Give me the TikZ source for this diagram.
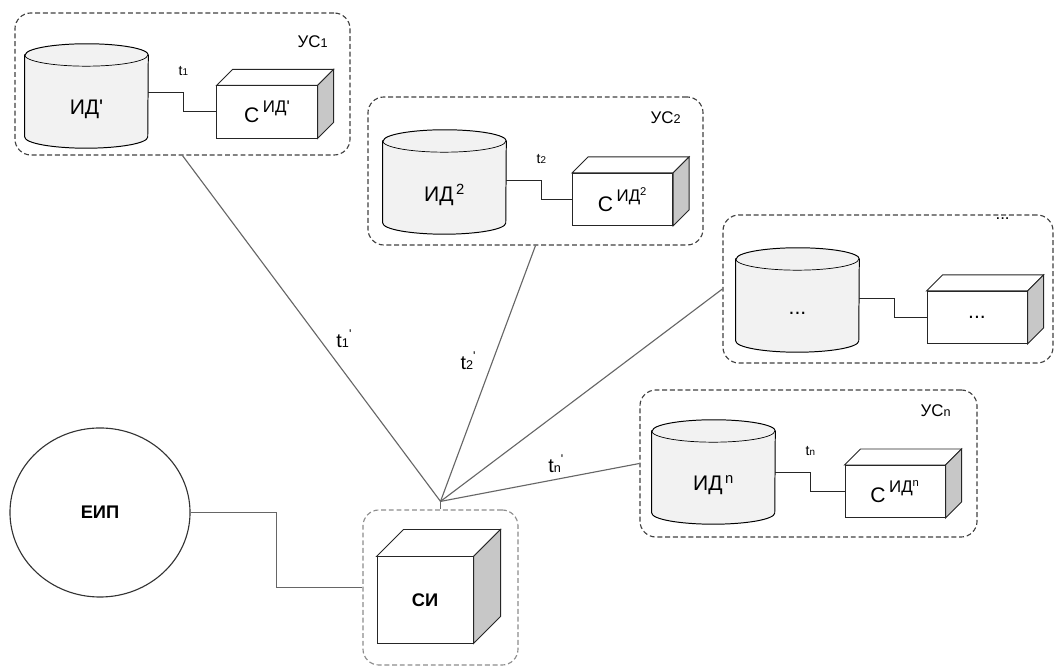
\documentclass[tikz,border=0pt]{standalone}
\usepackage{fontspec}
\setmainfont{Liberation Sans}
\usetikzlibrary{shapes, positioning, calc}

\pgfdeclarelayer{bg}
\pgfsetlayers{bg,main}

\newcommand{\tprime}[1]{t{\fontsize{9}{9}\selectfont #1}\raisebox{0.45em}{\fontsize{9}{9}\selectfont\textquotesingle}}

\tikzset{
  group/.style={draw=black!75, line width=0.8pt, dash pattern=on 3.5pt off 2pt,
    rounded corners=0.4cm, inner sep=0pt},
  store/.style={inner sep=0pt, minimum width=3.075cm, font=\fontsize{15}{15}\selectfont,
    append after command={\pgfextra{\let\thisstore\tikzlastnode
      \begin{pgfonlayer}{bg}
      \draw[line width=0.7pt, fill=black!5] ([yshift=1.35cm]\thisstore.west) -- ([yshift=-0.7cm]\thisstore.west)
        arc[start angle=180, end angle=360, x radius=1.5375cm, y radius=0.28cm]
        -- ([yshift=1.35cm]\thisstore.east)
        arc[start angle=0, end angle=180, x radius=1.5375cm, y radius=0.28cm] -- cycle;
      \draw[line width=0.5pt] ([yshift=1.35cm]\thisstore.west)
        arc[start angle=180, end angle=360, x radius=1.5375cm, y radius=0.28cm];
      \end{pgfonlayer}}}},
  server/.style={draw=black!85, line width=0.7pt, fill=white, minimum width=2.5cm,
    minimum height=1.3cm, inner sep=0pt, font=\fontsize{15}{15}\selectfont,
    append after command={\pgfextra{\let\thiscube\tikzlastnode
      \draw[line width=0.7pt, draw=black!85, fill=white] (\thiscube.north west) -- ++(#1,#1)
        -- ([shift={(#1,#1)}]\thiscube.north east) -- (\thiscube.north east) -- cycle;
      \draw[line width=0.7pt, draw=black!85, fill=black!22] (\thiscube.north east) -- ++(#1,#1)
        -- ([shift={(#1,#1)}]\thiscube.south east) -- (\thiscube.south east) -- cycle;}}},
  server/.default=16,
  link/.style={draw=black!85, line width=0.7pt},
  spoke/.style={draw=black!60, line width=0.8pt},
  tsmall/.style={font=\fontsize{10}{10}\selectfont},
  tlabel/.style={font=\fontsize{14}{14}\selectfont},
  gtitle/.style={font=\fontsize{12}{12}\selectfont, anchor=north east},
}

\begin{document}
\begin{tikzpicture}[x=0.025cm, y=0.025cm]
\useasboundingbox (0,0) rectangle (1056,668);

% dashed groups
\node[group, minimum width=8.375cm, minimum height=3.55cm] (us1) at (182.5,584) {};
\node[group, minimum width=8.375cm, minimum height=3.7cm] (us2) at (535.5,497) {};
\node[group, minimum width=8.25cm, minimum height=3.7cm] (us3) at (888,379) {};
\node[group, minimum width=8.425cm, minimum height=3.675cm] (usn) at (808.5,204.5) {};
\node[group, draw=black!45, minimum width=3.875cm, minimum height=3.875cm] (si) at (440.5,80.5) {};

\node[gtitle] (us1t) at ([shift={(-18,-18)}]us1.north east) {УС{\fontsize{9}{9}\selectfont 1}};
\node[gtitle] (us2t) at ([shift={(-18,-10)}]us2.north east) {УС{\fontsize{9}{9}\selectfont 2}};
\node[gtitle, anchor=center] (us3t) at ([shift={(-51,-4)}]us3.north east) {...};
\node[gtitle] (usnt) at ([shift={(-22,-10)}]usn.north east) {УС{\fontsize{9}{9}\selectfont n}};

% storages and servers
\node[store] (id1) at (86.5,559) {ИД\textquotesingle};
\node[store] (id2) at (444.5,473) {ИД\textsuperscript{\,2}};
\node[store] (id3) at (797.5,355) {...};
\node[store] (idn) at (713.5,183) {ИД\textsuperscript{\,n}};

\node[server] (s1) at (267,556) {С\,\raisebox{0.45em}{\fontsize{12}{12}\selectfont ИД\textquotesingle}};
\node[server] (s2) at (622.5,468.5) {С\,\raisebox{0.45em}{\fontsize{12}{12}\selectfont ИД\textsuperscript{2}}};
\node[server] (s3) at (977,350.5) {...};
\node[server] (sn) at (895,176.5) {С\,\raisebox{0.45em}{\fontsize{12}{12}\selectfont ИД\textsuperscript{n}}};

\draw[link] ($(id1.east |- s1.west)+(0,19)$) -- ++(35,0) coordinate (c1) |- (s1.west);
\draw[link] ($(id2.east |- s2.west)+(0,19)$) -- ++(35,0) coordinate (c2) |- (s2.west);
\draw[link] ($(id3.east |- s3.west)+(0,19)$) -- ++(35,0) coordinate (c3) |- (s3.west);
\draw[link] ($(idn.east |- sn.west)+(0,19)$) -- ++(35,0) coordinate (cn) |- (sn.west);

\node[tsmall, above=3mm of c1] (t1) {t{\fontsize{7}{7}\selectfont 1}};
\node[tsmall, above=3mm of c2] (t2) {t{\fontsize{7}{7}\selectfont 2}};
\node[tsmall, above=3mm of cn] (tn) {t{\fontsize{7}{7}\selectfont n}};

% centre
\node[draw=black!80, line width=0.8pt, ellipse, minimum width=4.5cm, minimum height=4.225cm,
  font=\fontsize{13}{13}\selectfont\bfseries] (eip) at (100,155.5) {ЕИП};
\node[server=27, minimum width=2.4cm, minimum height=2.15cm,
  font=\fontsize{13}{13}\selectfont\bfseries] (sic) at (425,68) {СИ};

\draw[link, draw=black!60, line width=1pt] (eip.east) -- ++(86,0) |- (si.west);

\coordinate (hub) at ($(si.north)+(0,8)$);
\draw[spoke] (hub) -- (si.north);
\draw[spoke] (hub) -- node[tlabel, pos=0.47, right=3mm] (t1s) {\tprime{1}} (us1.south);
\draw[spoke] (hub) -- node[tlabel, pos=0.55, left=3mm] (t2s) {\tprime{2}} (us2.south);
\draw[spoke] (hub) -- (us3.west);
\draw[spoke] (hub) -- node[tlabel, pos=0.58, above=1pt] (tns) {\tprime{n}} (usn.west);

\end{tikzpicture}
\end{document}
